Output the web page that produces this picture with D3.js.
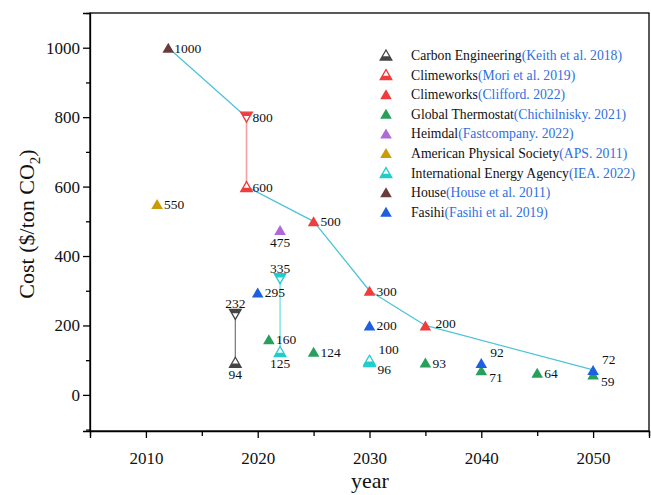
<!DOCTYPE html>
<html>
<head>
<meta charset="utf-8">
<script src="https://cdn.jsdelivr.net/npm/d3@7/dist/d3.min.js"></script>
<style>
  html, body { margin: 0; padding: 0; background: #fff; }
  svg { display: block; font-family: "Liberation Serif", "Times New Roman", serif; }
  svg text { font-family: "Liberation Serif", "Times New Roman", serif; }
</style>
</head>
<body>
<svg id="chart" width="651" height="495"></svg>
<script>
// ---------------- DATA ----------------
const seriesNames = ["Carbon Engineering", "Climeworks", "Climeworks", "Global Thermostat", "Heimdal",
  "American Physical Society", "International Energy Agency", "House", "Fasihi"];
const seriesCites = ["(Keith et al. 2018)", "(Mori et al. 2019)", "(Clifford. 2022)", "(Chichilnisky. 2021)",
  "(Fastcompany. 2022)", "(APS. 2011)", "(IEA. 2022)", "(House et al. 2011)", "(Fasihi et al. 2019)"];

const ceYears = [2018, 2018];             const ceCost = [94, 232];
const moriYears = [2019, 2019];           const moriCost = [600, 800];
const cliffordYears = [2025, 2030, 2035]; const cliffordCost = [500, 300, 200];
const gtYears = [2021, 2025, 2035, 2040, 2045, 2050]; const gtCost = [160, 124, 93, 71, 64, 59];
const heimdalYears = [2022];              const heimdalCost = [475];
const apsYears = [2011];                  const apsCost = [550];
const ieaYears = [2022, 2022, 2030, 2030]; const ieaCost = [125, 335, 96, 100];
const houseYears = [2012];                const houseCost = [1000];
const fasihiYears = [2020, 2030, 2040, 2050]; const fasihiCost = [295, 200, 92, 72];

const trendYears = [2012, 2019, 2019, 2025, 2030, 2035, 2050];
const trendCost = [1000, 800, 600, 500, 300, 200, 72];

const xTickLabels = [2010, 2020, 2030, 2040, 2050];
const yTickLabels = [0, 200, 400, 600, 800, 1000];

// ---------------- STYLE ----------------
const colors = ["#454545", "#f03c3c", "#f03c3c", "#27a05c", "#b068d8", "#cc9a06", "#22cccc", "#6b3b3b", "#1c5fe0"];
const hollow = [true, true, false, false, false, false, true, false, false];
const allYears = [ceYears, moriYears, cliffordYears, gtYears, heimdalYears, apsYears, ieaYears, houseYears, fasihiYears];
const allCost = [ceCost, moriCost, cliffordCost, gtCost, heimdalCost, apsCost, ieaCost, houseCost, fasihiCost];
const directions = [["up", "down"], ["up", "down"], ["up", "up", "up"], ["up","up","up","up","up","up"], ["up"], ["up"],
  ["up", "down", "up", "up"], ["up"], ["up", "up", "up", "up"]];
const labelPlace = [["below", "above"], ["right", "right"], ["right", "right", "right2"],
  ["right", "right", "right", "lowright", "right", "lowright"], ["below"], ["right"],
  ["below", "above", "lowright", "upright"], ["right"], ["right", "right", "upright", "upright"]];
const rangeLines = [0, 1, 6]; // series with vertical range line (first two points)
const rangeColors = ["#808080", "#f4a0a0", "#6fe0e0"];
const FONT = '"Liberation Serif", "Times New Roman", serif';

// ---------------- CHART ----------------
const svg = d3.select("#chart");
const L = 90, R = 649, T = 13, B = 431;
const x = d3.scaleLinear().domain([2005, 2055]).range([L, R]);
const y = d3.scaleLinear().domain([-104, 1100]).range([B, T]);

// frame
svg.append("rect").attr("x", L).attr("y", T).attr("width", R - L).attr("height", B - T)
  .attr("fill", "none").attr("stroke", "#000").attr("stroke-width", 1.3);

// x axis
const xMinor = d3.range(2005, 2056, 5);
const xAxis = d3.axisBottom(x).tickValues(xMinor).tickSize(7)
  .tickFormat(d => xTickLabels.includes(d) ? String(d) : "");
const gx = svg.append("g").attr("transform", `translate(0,${B})`).call(xAxis);
gx.attr("font-family", null);
gx.selectAll(".tick line").attr("stroke-width", 1.3)
  .attr("y2", d => xTickLabels.includes(d) ? 7 : 5);
gx.select(".domain").attr("stroke-width", 1.3);
gx.selectAll("text").style("font-size", "17px").style("font-family", FONT).attr("fill", "#111")
  .attr("y", 28).attr("dy", "0.32em");

// y axis
const yMinor = d3.range(-100, 1101, 100);
const yAxis = d3.axisLeft(y).tickValues(yMinor).tickSize(7)
  .tickFormat(d => yTickLabels.includes(d) ? String(d) : "");
const gy = svg.append("g").attr("transform", `translate(${L},0)`).call(yAxis);
gy.attr("font-family", null);
gy.selectAll(".tick line").attr("stroke-width", 1.3)
  .attr("x2", d => yTickLabels.includes(d) ? -7 : -4);
gy.select(".domain").attr("stroke-width", 1.3);
gy.selectAll("text").style("font-size", "17px").style("font-family", FONT).attr("fill", "#111").attr("x", -10);

// axis titles
svg.append("text").attr("x", 370).attr("y", 488).attr("text-anchor", "middle")
  .attr("font-size", 22).attr("fill", "#111").text("year");
const yt = svg.append("text").attr("transform", `translate(34,${(T + B) / 2 + 2}) rotate(-90)`)
  .attr("text-anchor", "middle").attr("font-size", 22).attr("fill", "#111");
yt.append("tspan").text("Cost ($/ton CO");
yt.append("tspan").attr("font-size", 15).attr("dy", 6).text("2");
yt.append("tspan").attr("dy", -6).text(")");

// trend line
const trendPts = trendYears.map((d, i) => [x(d), y(trendCost[i])]);
svg.append("path").attr("d", d3.line()(trendPts)).attr("fill", "none")
  .attr("stroke", "#4fc3d8").attr("stroke-width", 1.3).attr("stroke-linejoin", "round");

// range lines
rangeLines.forEach((s, k) => {
  svg.append("line")
    .attr("x1", x(allYears[s][0])).attr("x2", x(allYears[s][1]))
    .attr("y1", y(allCost[s][0])).attr("y2", y(allCost[s][1]))
    .attr("stroke", rangeColors[k]).attr("stroke-width", 1.3);
});

// marker drawing
const W = 5.8, H = 10;
function triPath(cx, cy, dir) {
  const s = dir === "up" ? 1 : -1;
  return `M${cx - W},${cy + s * H / 2}L${cx + W},${cy + s * H / 2}L${cx},${cy - s * H / 2}Z`;
}
function bandPath(cx, cy, dir, frac) {
  const s = dir === "up" ? 1 : -1;
  const b = H * frac, w2 = W * (1 - frac);
  const y0 = cy + s * H / 2, y1 = y0 - s * b;
  return `M${cx - W},${y0}L${cx + W},${y0}L${cx + w2},${y1}L${cx - w2},${y1}Z`;
}
function marker(g, cx, cy, dir, color, isHollow) {
  if (isHollow) {
    g.append("path").attr("d", triPath(cx, cy, dir)).attr("fill", "#fff")
      .attr("stroke", color).attr("stroke-width", 1.3).attr("stroke-linejoin", "miter");
    g.append("path").attr("d", bandPath(cx, cy, dir, 0.38)).attr("fill", color);
  } else {
    g.append("path").attr("d", triPath(cx, cy, dir)).attr("fill", color);
  }
}

const gm = svg.append("g");
const gl = svg.append("g").attr("font-size", 13.5).attr("fill", "#111");
allYears.forEach((ys, s) => {
  ys.forEach((yr, i) => {
    const cx = x(yr), cy = y(allCost[s][i]);
    marker(gm, cx, cy, directions[s][i], colors[s], hollow[s]);
    const p = labelPlace[s][i];
    let tx = cx + 6, ty = cy + 5, anchor = "start";
    if (p === "right2") { tx = cx + 10; ty = cy + 3; }
    if (p === "below") { tx = cx; ty = cy + 17; anchor = "middle"; }
    if (p === "above") { tx = cx; ty = cy - 6; anchor = "middle"; }
    if (p === "upright") { tx = cx + 9; ty = cy - 6; }
    if (p === "lowright") { tx = cx + 8; ty = cy + 12; }
    if (p === "right" && hollow[s] === false && s !== 7) { tx = cx + 7; }
    gl.append("text").attr("x", tx).attr("y", ty).attr("text-anchor", anchor).text(allCost[s][i]);
  });
});

// legend
const lg = svg.append("g");
seriesNames.forEach((n, i) => {
  const ly = 55 + i * 19.6;
  marker(lg, 386, ly, "up", colors[i], hollow[i]);
  const t = lg.append("text").attr("x", 411).attr("y", ly + 5).attr("font-size", 13.7);
  t.append("tspan").attr("fill", "#111").text(n);
  t.append("tspan").attr("fill", "#2f6fe0").text(seriesCites[i]);
});
</script>
</body>
</html>
